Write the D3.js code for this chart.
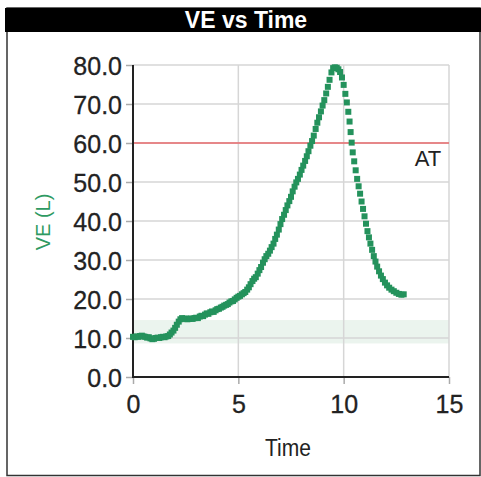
<!DOCTYPE html>
<html>
<head>
<meta charset="utf-8">
<script src="https://cdnjs.cloudflare.com/ajax/libs/d3/7.8.5/d3.min.js"></script>
<style>
  body { margin: 0; background: #fff; }
  svg { display: block; font-family: "Liberation Sans", Arial, sans-serif; }
</style>
</head>
<body>
<script>
// du lieu doc tu hinh - time (phut) va VE (L)
var timeVals = [0.00, 0.08, 0.17, 0.25, 0.33, 0.42, 0.50, 0.58, 0.67, 0.75, 0.83, 0.92, 1.00, 1.08, 1.17, 1.25, 1.33, 1.42, 1.50, 1.58,
  1.67, 1.75, 1.83, 1.92, 2.00, 2.08, 2.17, 2.25, 2.33, 2.42, 2.50, 2.58, 2.67, 2.75, 2.83, 2.92, 3.00, 3.08, 3.17, 3.25,
  3.33, 3.42, 3.50, 3.58, 3.67, 3.75, 3.83, 3.92, 4.00, 4.08, 4.17, 4.25, 4.33, 4.42, 4.50, 4.58, 4.67, 4.75, 4.83, 4.92,
  5.00, 5.08, 5.17, 5.25, 5.33, 5.42, 5.50, 5.58, 5.67, 5.75, 5.83, 5.92, 6.00, 6.08, 6.17, 6.25, 6.33, 6.42, 6.50, 6.58,
  6.67, 6.75, 6.83, 6.92, 7.00, 7.08, 7.17, 7.25, 7.33, 7.42, 7.50, 7.58, 7.67, 7.75, 7.83, 7.92, 8.00, 8.08, 8.17, 8.25,
  8.33, 8.42, 8.50, 8.58, 8.67, 8.75, 8.83, 8.92, 9.00, 9.08, 9.17, 9.25, 9.33, 9.42, 9.50, 9.58, 9.67, 9.75, 9.83, 9.92,
  10.00, 10.08, 10.15, 10.22, 10.28, 10.33, 10.38, 10.43, 10.50, 10.57, 10.64, 10.71, 10.78, 10.85, 10.92, 10.99, 11.06, 11.13, 11.20, 11.27,
  11.35, 11.43, 11.51, 11.59, 11.68, 11.77, 11.86, 11.96, 12.06, 12.16, 12.27, 12.38, 12.50, 12.62, 12.74, 12.85];
var veVals = [10.3, 10.2, 10.4, 10.3, 10.5, 10.6, 10.4, 10.3, 10.1, 10.2, 9.9, 9.7, 9.8, 10.0, 10.1, 10.0, 10.2, 10.3, 10.2, 10.4,
  10.5, 10.9, 11.4, 11.9, 12.6, 13.4, 14.2, 14.8, 15.1, 14.9, 15.0, 14.8, 14.9, 15.0, 14.9, 15.1, 15.2, 15.1, 15.5, 15.7,
  15.6, 16.0, 16.3, 16.2, 16.6, 16.8, 16.7, 17.1, 17.4, 17.5, 17.8, 18.0, 18.3, 18.5, 18.7, 19.1, 19.4, 19.5, 19.9, 20.3,
  20.6, 20.8, 21.2, 21.5, 21.8, 22.4, 23.0, 23.8, 24.6, 25.2, 25.6, 26.5, 27.4, 28.2, 29.3, 30.2, 31.0, 31.6, 32.4, 33.3,
  34.2, 35.4, 36.5, 37.8, 39.2, 40.5, 41.6, 42.8, 44.0, 45.1, 46.2, 47.6, 48.8, 49.9, 50.8, 51.9, 53.1, 54.2, 55.4, 56.6,
  57.9, 59.3, 60.5, 61.9, 63.6, 65.2, 66.6, 68.1, 69.6, 71.0, 72.7, 74.4, 76.2, 78.1, 79.2, 79.4, 79.3, 78.9, 78.2, 76.8,
  74.9, 72.6, 70.4, 68.0, 65.5, 62.8, 60.1, 57.6, 55.3, 53.0, 50.8, 48.9, 47.0, 45.0, 43.1, 41.2, 39.3, 37.4, 35.8, 34.2,
  32.6, 31.0, 29.6, 28.3, 27.1, 26.0, 25.1, 24.2, 23.5, 22.9, 22.4, 22.0, 21.6, 21.3, 21.1, 21.2];

var xTicks = [0, 5, 10, 15];
var yTicks = [0, 10, 20, 30, 40, 50, 60, 70, 80];
var atValue = [60];          // duong AT
var normalBand = [8.6, 14.6]; // vung binh thuong

var width = 481, height = 477;

var svg = d3.select("body").append("svg")
    .attr("width", width)
    .attr("height", height);

// khung ngoai
svg.append("rect")
    .attr("x", 7).attr("y", 8)
    .attr("width", 473).attr("height", 467.5)
    .attr("fill", "none").attr("stroke", "#333").attr("stroke-width", 1.5);

// thanh tieu de mau den
svg.append("rect")
    .attr("x", 5).attr("y", 8)
    .attr("width", 476).attr("height", 24)
    .attr("fill", "#000");

svg.append("text")
    .attr("x", 246).attr("y", 28)
    .attr("text-anchor", "middle")
    .attr("fill", "#fff")
    .style("font-size", "23px")
    .style("font-weight", "bold")
    .text("VE vs Time");

var x = d3.scaleLinear().domain([0, 15]).range([133, 449]);
var y = d3.scaleLinear().domain([0, 80]).range([377, 65]);

// vung xanh nhat
svg.append("rect")
    .attr("x", x(0)).attr("y", y(normalBand[1]))
    .attr("width", x(15) - x(0))
    .attr("height", y(normalBand[0]) - y(normalBand[1]))
    .attr("fill", "#ebf4ee");

// luoi
var grid = svg.append("g").attr("class", "grid");
grid.selectAll("line.h").data(yTicks.filter(function(d) { return d > 0; }))
    .enter().append("line")
    .attr("x1", x(0)).attr("x2", x(15))
    .attr("y1", function(d) { return y(d); })
    .attr("y2", function(d) { return y(d); })
    .attr("stroke", "#d6d6d6").attr("stroke-width", 1.5);
grid.selectAll("line.v").data(xTicks.filter(function(d) { return d > 0; }))
    .enter().append("line")
    .attr("y1", y(0)).attr("y2", y(80))
    .attr("x1", function(d) { return x(d); })
    .attr("x2", function(d) { return x(d); })
    .attr("stroke", "#d6d6d6").attr("stroke-width", 1.5);

// duong AT
svg.selectAll("line.at").data(atValue).enter().append("line")
    .attr("x1", x(0)).attr("x2", x(15))
    .attr("y1", function(d) { return y(d); })
    .attr("y2", function(d) { return y(d); })
    .attr("stroke", "#e86a6c").attr("stroke-width", 1.5);

svg.append("text")
    .attr("x", 428).attr("y", 166)
    .attr("text-anchor", "middle")
    .attr("fill", "#222")
    .style("font-size", "22px")
    .text("AT");

// truc y
var yAxis = svg.append("g")
    .attr("transform", "translate(" + x(0) + ",0)")
    .call(d3.axisLeft(y).tickValues(yTicks).tickFormat(d3.format(".1f")).tickSize(7).tickPadding(4));
// truc x
var xAxis = svg.append("g")
    .attr("transform", "translate(0," + y(0) + ")")
    .call(d3.axisBottom(x).tickValues(xTicks).tickSize(7).tickPadding(6));

[yAxis, xAxis].forEach(function(ax) {
    ax.select(".domain").remove();
    ax.selectAll(".tick line").attr("stroke", "#aaa").attr("stroke-width", 1.5);
    ax.selectAll(".tick text")
        .attr("fill", "#222")
        .attr("stroke", "#222").attr("stroke-width", 0.3)
        .style("font-size", "25px")
        .style("font-family", "'Liberation Sans', Arial, sans-serif");
});
yAxis.selectAll(".tick text").attr("dy", "0.36em");
xAxis.selectAll(".tick text").attr("dy", "0.9em");

// duong truc den
svg.append("line")
    .attr("x1", x(0)).attr("x2", x(0))
    .attr("y1", y(80)).attr("y2", y(0) + 1)
    .attr("stroke", "#222").attr("stroke-width", 2);
svg.append("line")
    .attr("x1", x(0) - 1).attr("x2", x(15))
    .attr("y1", y(0)).attr("y2", y(0))
    .attr("stroke", "#222").attr("stroke-width", 2);

// nhan truc
svg.append("text")
    .attr("transform", "translate(50,222) rotate(-90)")
    .attr("text-anchor", "middle")
    .attr("fill", "#2e9a62")
    .style("font-size", "20px")
    .text("VE (L)");

svg.append("text")
    .attr("x", 288).attr("y", 456)
    .attr("text-anchor", "middle")
    .attr("fill", "#222")
    .attr("textLength", 46)
    .attr("lengthAdjust", "spacingAndGlyphs")
    .style("font-size", "23px")
    .text("Time");

// cac diem du lieu
var pts = timeVals.map(function(t, i) { return { t: t, v: veVals[i] }; });
svg.append("g").selectAll("rect")
    .data(pts)
    .enter().append("rect")
    .attr("x", function(d) { return x(d.t) - 3; })
    .attr("y", function(d) { return y(d.v) - 3; })
    .attr("width", 6).attr("height", 6)
    .attr("fill", "#24925c");
</script>
</body>
</html>
